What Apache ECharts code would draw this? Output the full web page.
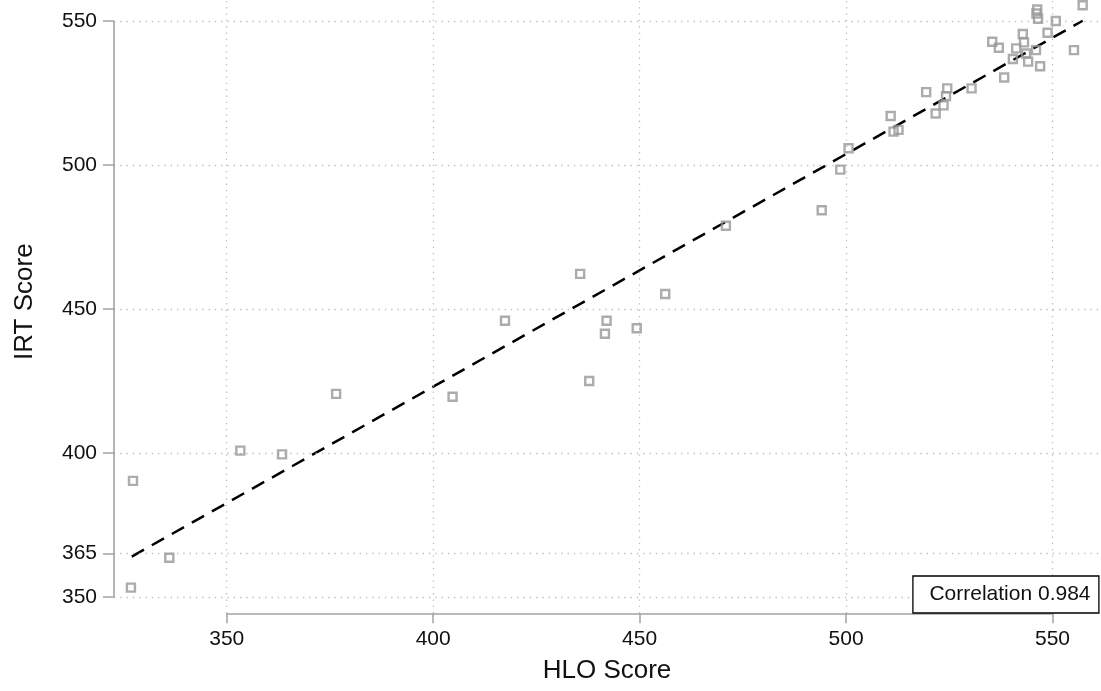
<!DOCTYPE html>
<html>
<head>
<meta charset="utf-8">
<script src="https://cdn.jsdelivr.net/npm/echarts@6/dist/echarts.min.js"></script>
<style>
html,body{margin:0;padding:0;background:#fff;}
#chart{width:1101px;height:691px;}
</style>
</head>
<body>
<div id="chart"></div>
<script>
// HLO score (x) and IRT score (y) per country
var hloScore = [326.8, 327.3, 336.1, 353.3, 363.4, 376.5, 404.7, 417.4, 435.6, 437.8,
  441.6, 442.0, 449.3, 456.2, 470.9, 494.1, 498.6, 500.6, 510.8, 511.5,
  512.7, 519.4, 521.7, 523.6, 524.2, 524.5, 530.4, 535.4, 537.0, 538.3,
  540.4, 541.2, 542.8, 543.1, 543.6, 544.1, 546.0, 546.3, 546.1, 546.5,
  547.0, 548.8, 550.8, 555.2, 557.3];
var irtScore = [353.2, 390.3, 363.6, 400.8, 399.5, 420.5, 419.5, 445.9, 462.2, 425.0,
  441.4, 445.9, 443.3, 455.2, 478.9, 484.3, 498.4, 505.8, 517.0, 511.6,
  512.2, 525.3, 517.9, 520.7, 523.9, 526.6, 526.6, 542.8, 540.7, 530.4,
  536.8, 540.5, 545.5, 542.6, 538.7, 535.9, 539.9, 554.0, 552.6, 550.8,
  534.3, 545.9, 550.0, 539.9, 555.5];
// fitted line end points
var fitX = [327.0, 557.3];
var fitY = [364.0, 550.1];
// tick labels
var xTicks = [350, 400, 450, 500, 550];
var yTicks = [350, 365, 400, 450, 500, 550];
var correlationText = 'Correlation 0.984';

var XMIN = 322.7, XMAX = 561.5, YMIN = 344.3, YMAX = 557.3;
var FONT = 'Liberation Sans';
var AXIS_COLOR = '#a3a3a3';

var points = hloScore.map(function (v, i) { return [v, irtScore[i]]; });
var fit = fitX.map(function (v, i) { return [v, fitY[i]]; });

var gridLineData = yTicks.map(function (v) { return { yAxis: v }; })
  .concat(xTicks.map(function (v) { return { xAxis: v }; }));

var chart = echarts.init(document.getElementById('chart'), null, { renderer: 'canvas' });
chart.setOption({
  animation: false,
  backgroundColor: '#fff',
  title: {
    text: correlationText,
    right: 1.5,
    bottom: 77.5,
    padding: [8, 9, 8, 17],
    borderColor: '#000',
    borderWidth: 1.3,
    backgroundColor: '#fff',
    textStyle: { fontFamily: FONT, fontSize: 21, fontWeight: 'normal', color: '#111', lineHeight: 22 },
    z: 10
  },
  grid: { left: 114, right: 1, top: 0, bottom: 77.7 },
  xAxis: {
    type: 'value', min: XMIN, max: XMAX,
    name: 'HLO Score', nameLocation: 'middle', nameGap: 45,
    nameTextStyle: { fontFamily: FONT, fontSize: 26, color: '#111' },
    axisLine: { show: false },
    splitLine: { show: false },
    axisTick: { show: true, customValues: xTicks, length: 10, lineStyle: { color: AXIS_COLOR, width: 1.5 } },
    axisLabel: { customValues: xTicks, fontFamily: FONT, fontSize: 21, color: '#111', margin: 15 }
  },
  yAxis: {
    type: 'value', min: YMIN, max: YMAX,
    name: 'IRT Score', nameLocation: 'middle', nameGap: 76, nameRotate: 90,
    nameTextStyle: { fontFamily: FONT, fontSize: 26, color: '#111', padding: [0, 0, 0, 10] },
    axisLine: { show: false },
    splitLine: { show: false },
    axisTick: { show: true, customValues: yTicks, length: 11, lineStyle: { color: AXIS_COLOR, width: 1.5 } },
    axisLabel: { customValues: yTicks, fontFamily: FONT, fontSize: 21, color: '#111', margin: 17 }
  },
  series: [
    {
      name: 'grid', type: 'scatter', data: [], silent: true, z: 1,
      markLine: {
        silent: true, symbol: ['none', 'none'], label: { show: false },
        lineStyle: { color: '#bcbcbc', width: 1.3, type: [1.3, 5] },
        emphasis: { disabled: true },
        data: gridLineData
      }
    },
    {
      name: 'axes', type: 'scatter', data: [], silent: true, z: 3,
      markLine: {
        silent: true, symbol: ['none', 'none'], label: { show: false },
        lineStyle: { color: AXIS_COLOR, width: 1.6, type: 'solid' },
        emphasis: { disabled: true },
        data: [
          [{ coord: [xTicks[0], YMIN] }, { coord: [xTicks[xTicks.length - 1], YMIN] }],
          [{ coord: [XMIN, yTicks[0]] }, { coord: [XMIN, yTicks[yTicks.length - 1]] }]
        ]
      }
    },
    {
      name: 'fit', type: 'line', data: fit, symbol: 'none', z: 4,
      lineStyle: { color: '#000', width: 2.5, type: [14, 9] },
      silent: true
    },
    {
      name: 'points', type: 'scatter', data: points, symbol: 'rect', symbolSize: 8, z: 5,
      clip: false,
      itemStyle: { color: 'rgba(255,255,255,0)', borderColor: '#979797', borderWidth: 2.4 }
    }
  ]
});
</script>
</body>
</html>
